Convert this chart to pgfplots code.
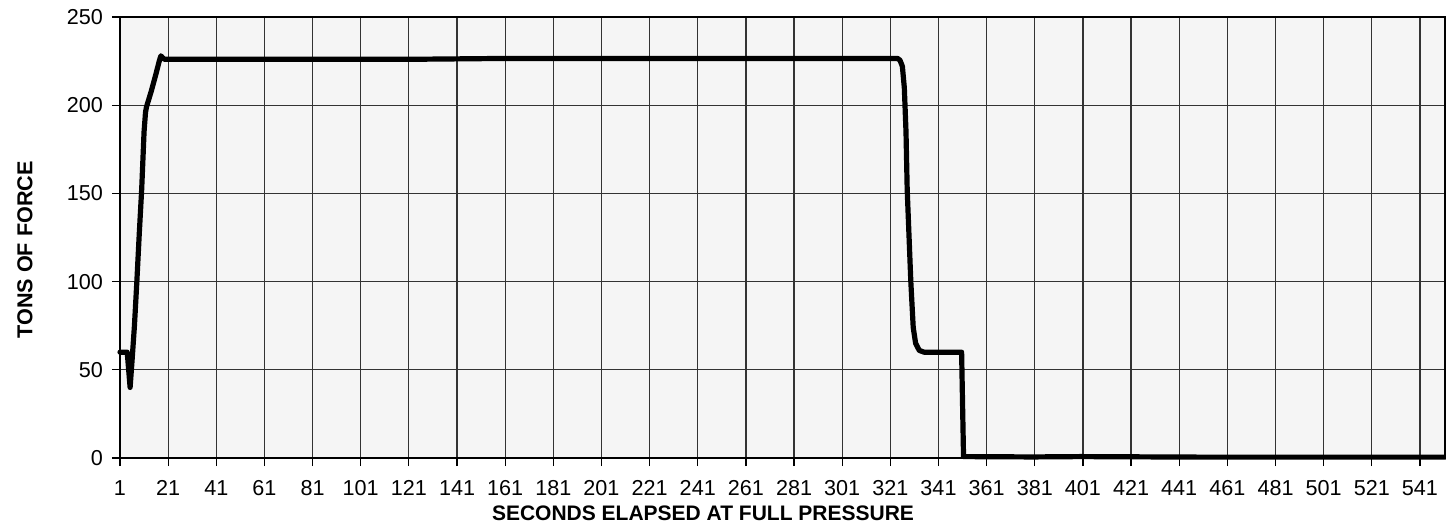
\documentclass[border=0pt]{standalone}
\usepackage{fontspec}
\setmainfont{Liberation Sans}
\usepackage{pgfplots}
\pgfplotsset{compat=1.18}
\begin{document}
\begin{tikzpicture}
\useasboundingbox (-60pt,-33.5pt) rectangle (663pt,229pt);
\begin{axis}[
  at={(0,0)}, anchor=south west,
  scale only axis,
  width=662.5pt, height=220.5pt,
  xmin=1, xmax=551.4, ymin=0, ymax=250,
  xtick={1,21,...,541},
  ytick={0,50,...,250},
  grid=major,
  major grid style={line width=0.6pt, draw=black!80},
  axis line style={line width=0.6pt, black},
  tick style={line width=0.6pt, black},
  tick align=outside,
  major tick length=4pt,
  xtick pos=bottom, ytick pos=left,
  axis background/.style={fill=black!4},
  tick label style={font=\fontsize{10.8}{12}\selectfont},
  /pgf/number format/assume math mode=true,
  xticklabel style={text height=8pt, text depth=0pt, anchor=north, yshift=-3pt},
  yticklabel style={xshift=-1pt},
  xlabel={\bfseries\fontsize{10.5}{12}\selectfont SECONDS ELAPSED AT FULL PRESSURE},
  ylabel={\bfseries\fontsize{10.8}{12}\selectfont TONS OF FORCE},
  xlabel style={at={(axis description cs:0.44,0)}, anchor=center, yshift=-27.5pt},
  ylabel style={at={(axis description cs:0,0.472)}, anchor=center, yshift=47.5pt},
  clip=false,
]
\addplot[black, line width=2.6pt, line join=round, line cap=round] coordinates {
(1,60) (4,60) (5.2,40) (6,55) (7,75) (8,100) (9,127) (10,152) (11,185) (11.6,196)
(12,199) (14,208) (16,218) (17.3,225) (18,228) (18.6,227) (19.5,226) (40,226)
(80,226) (120,226) (160,226.5) (200,226.5) (240,226.5) (280,226.5) (300,226.5)
(324,226.5) (325,225.5) (326,222) (326.8,210) (327.5,185) (328,152) (329.5,100)
(330.5,74) (331.5,65) (333,61) (335,60) (350.6,60) (351,30) (351.4,0.8)
(380,0.6) (400,0.8) (450,0.5) (500,0.5) (551.4,0.5)
};
\end{axis}
\end{tikzpicture}
\end{document}
